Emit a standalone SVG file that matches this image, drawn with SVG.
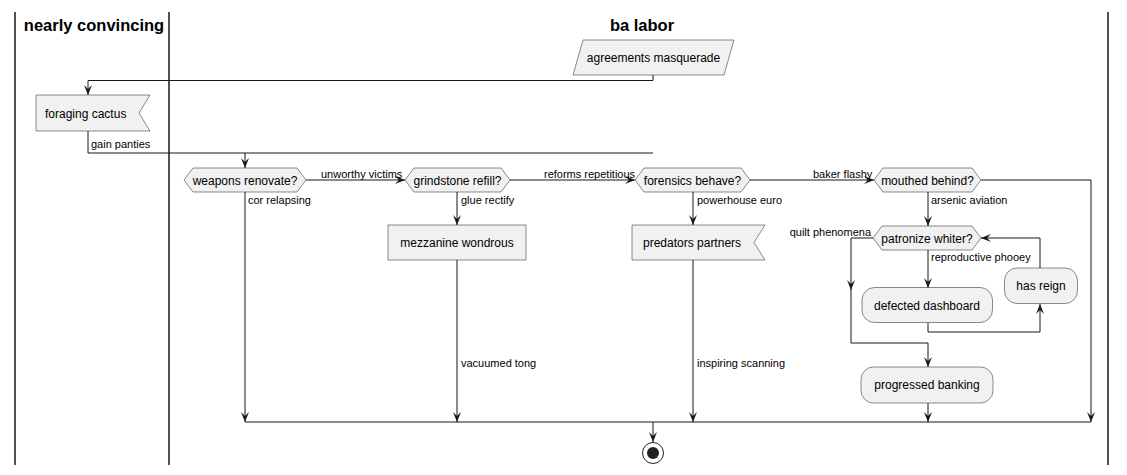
<svg xmlns="http://www.w3.org/2000/svg" width="1127" height="475" viewBox="0 0 1127 475">
<defs>
<marker id="ah" viewBox="0 0 10 10" refX="10" refY="5" markerWidth="10" markerHeight="10" markerUnits="userSpaceOnUse" orient="auto">
<path d="M10,5 L0,1 L4,5 L0,9 Z" fill="#181818"/>
</marker>
<style>
.lane{stroke:#181818;stroke-width:1.5;fill:none}
.title{font-family:"Liberation Sans",Arial,sans-serif;font-size:16.5px;font-weight:bold;fill:#000}
.node{fill:#F1F1F1;stroke:#181818;stroke-width:0.5}
.nt{font-family:"Liberation Sans",Arial,sans-serif;font-size:12px;fill:#000}
.lbl{font-family:"Liberation Sans",Arial,sans-serif;font-size:11px;fill:#000}
.c{fill:none;stroke:#181818;stroke-width:1}
.a{marker-end:url(#ah)}
</style>
</defs>
<rect width="1127" height="475" fill="#FFFFFF"/>
<g id="lanes">
<line class="lane" x1="15" y1="12" x2="15" y2="465"/>
<line class="lane" x1="169" y1="12" x2="169" y2="465"/>
<line class="lane" x1="1108" y1="12" x2="1108" y2="465"/>
<text class="title" x="94" y="31" text-anchor="middle">nearly convincing</text>
<text class="title" x="642" y="31" text-anchor="middle">ba labor</text>
</g>
<g id="connectors">
<path class="c a" d="M653,75 V80.5 H88 V95"/>
<path class="c" d="M88,131 V153 H653"/>
<path class="c a" d="M245,153 V168"/>
<path class="c a" d="M306,180 H405"/>
<path class="c a" d="M510,180 H635"/>
<path class="c a" d="M750,180 H874"/>
<path class="c a" d="M981,180 H1091 V422"/>
<path class="c a" d="M245,192 V422"/>
<path class="c a" d="M457,192 V225"/>
<path class="c a" d="M457,260 V422"/>
<path class="c a" d="M693,192 V225"/>
<path class="c a" d="M693,260 V422"/>
<path class="c a" d="M928,192 V226"/>
<path class="c a" d="M873,238 H851 V290"/>
<path class="c a" d="M851,289 V343 H928 V367"/>
<path class="c a" d="M928,250 V288"/>
<path class="c a" d="M928,323 V332 H1040 V304"/>
<path class="c a" d="M1040,268 V238 H981"/>
<path class="c a" d="M928,403 V422"/>
<path class="c" d="M245,422 H1091"/>
<path class="c a" d="M653,422 V442"/>
<text class="lbl" x="91" y="148">gain panties</text>
<text class="lbl" x="321" y="178">unworthy victims</text>
<text class="lbl" x="544" y="178">reforms repetitious</text>
<text class="lbl" x="813" y="178">baker flashy</text>
<text class="lbl" x="248" y="204">cor relapsing</text>
<text class="lbl" x="461" y="204">glue rectify</text>
<text class="lbl" x="697" y="204">powerhouse euro</text>
<text class="lbl" x="931" y="204">arsenic aviation</text>
<text class="lbl" x="871" y="236" text-anchor="end">quilt phenomena</text>
<text class="lbl" x="931" y="261">reproductive phooey</text>
<text class="lbl" x="461" y="367">vacuumed tong</text>
<text class="lbl" x="697" y="367">inspiring scanning</text>
</g>
<g id="agreements-masquerade">
<polygon class="node" points="583,40 734,40 724,75 573,75"/>
<text class="nt" x="653.5" y="62" text-anchor="middle">agreements masquerade</text>
</g>
<g id="foraging-cactus">
<polygon class="node" points="36,95 150,95 139,113 150,131 36,131"/>
<text class="nt" x="45" y="117.5">foraging cactus</text>
</g>
<g id="weapons-renovate">
<polygon class="node" points="184,180 193,168 297,168 306,180 297,192 193,192"/>
<text class="nt" x="245" y="184.5" text-anchor="middle">weapons renovate?</text>
</g>
<g id="grindstone-refill">
<polygon class="node" points="405,180 414,168 501,168 510,180 501,192 414,192"/>
<text class="nt" x="457.5" y="184.5" text-anchor="middle">grindstone refill?</text>
</g>
<g id="forensics-behave">
<polygon class="node" points="635,180 644,168 741,168 750,180 741,192 644,192"/>
<text class="nt" x="692.5" y="184.5" text-anchor="middle">forensics behave?</text>
</g>
<g id="mouthed-behind">
<polygon class="node" points="874,180 883,168 972,168 981,180 972,192 883,192"/>
<text class="nt" x="927.5" y="184.5" text-anchor="middle">mouthed behind?</text>
</g>
<g id="mezzanine-wondrous">
<rect class="node" x="388" y="225" width="138" height="35"/>
<text class="nt" x="457" y="247" text-anchor="middle">mezzanine wondrous</text>
</g>
<g id="predators-partners">
<polygon class="node" points="632,225 765,225 754,242.5 765,260 632,260"/>
<text class="nt" x="643" y="247">predators partners</text>
</g>
<g id="patronize-whiter">
<polygon class="node" points="873,238 882,226 972,226 981,238 972,250 882,250"/>
<text class="nt" x="927" y="242.5" text-anchor="middle">patronize whiter?</text>
</g>
<g id="defected-dashboard">
<rect class="node" x="862" y="287.5" width="130.5" height="35" rx="12.5"/>
<text class="nt" x="927" y="309.5" text-anchor="middle">defected dashboard</text>
</g>
<g id="has-reign">
<rect class="node" x="1004.5" y="268" width="73" height="35.5" rx="12.5"/>
<text class="nt" x="1041" y="290" text-anchor="middle">has reign</text>
</g>
<g id="progressed-banking">
<rect class="node" x="861" y="367" width="132" height="36" rx="12.5"/>
<text class="nt" x="927" y="389" text-anchor="middle">progressed banking</text>
</g>
<g id="end">
<circle cx="653" cy="453" r="10.5" fill="none" stroke="#222222" stroke-width="1"/>
<circle cx="653" cy="453" r="6" fill="#222222"/>
</g>
</svg>
